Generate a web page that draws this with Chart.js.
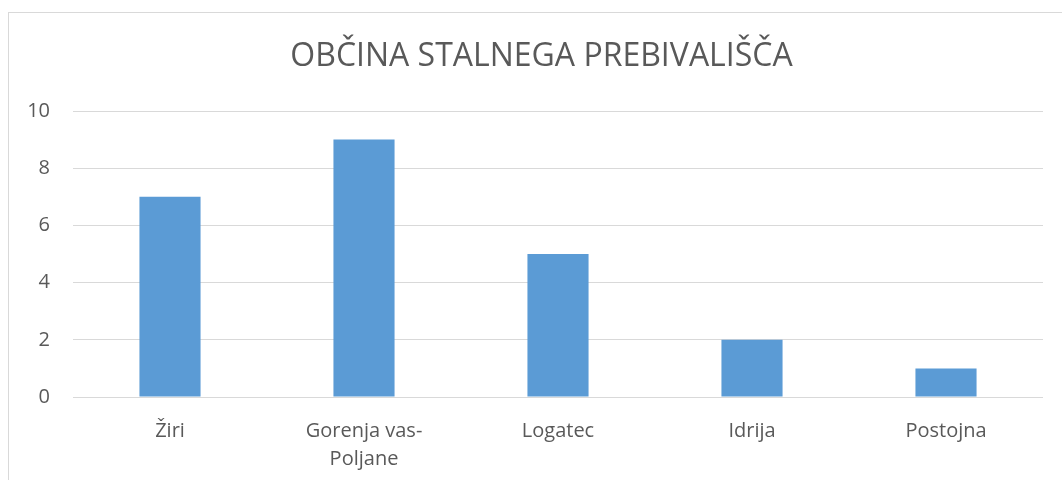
<!DOCTYPE html>
<html>
<head>
<meta charset="utf-8">
<script src="https://cdn.jsdelivr.net/npm/chart.js@4.4.1/dist/chart.umd.min.js"></script>
<style>
    html, body { margin: 0; padding: 0; background: #fff; }
    #frame {
        position: absolute;
        left: 8px;
        top: 12px;
        width: 1100px;
        height: 520px;
        border: 1px solid #d9d9d9;
    }
    #wrap { position: absolute; left: 0; top: 0; width: 1062px; height: 480px; }
</style>
</head>
<body>
<div id="frame"></div>
<div id="wrap"><canvas id="dataChart"></canvas></div>
<script>
// Data
const categories = ['Žiri', ['Gorenja vas-', 'Poljane'], 'Logatec', 'Idrija', 'Postojna'];
const values = [7, 9, 5, 2, 1];
const yTicks = [0, 2, 4, 6, 8, 10];

const textColor = '#595959';
const fontFamily = '"Open Sans", "Noto Sans", sans-serif';

// centre the title on the frame instead of the plot area
const titleShift = {
    id: 'titleShift',
    afterLayout(chart) {
        if (chart.titleBlock) {
            chart.titleBlock.left = 40;
            chart.titleBlock.right = 1043;
        }
    }
};

function createChart(labels, data, chartId, chartTitle) {
    const ctx = document.getElementById(chartId).getContext('2d');
    new Chart(ctx, {
        type: 'bar',
        data: {
            labels: labels,
            datasets: [{
                label: chartTitle,
                data: data,
                backgroundColor: '#5b9bd5',
                borderWidth: 0,
                barPercentage: 0.315,
                categoryPercentage: 1
            }]
        },
        options: {
            responsive: true,
            maintainAspectRatio: false,
            animation: false,
            layout: { padding: { left: 0, right: 19, top: 0, bottom: 0 } },
            plugins: {
                legend: { display: false },
                tooltip: { enabled: false },
                title: {
                    display: true,
                    text: chartTitle,
                    color: textColor,
                    font: { family: fontFamily, size: 32, weight: 'normal', lineHeight: 1.2 },
                    padding: { top: 38, bottom: 34.6 }
                }
            },
            scales: {
                x: {
                    grid: { display: false },
                    border: { display: false },
                    ticks: {
                        color: textColor,
                        font: { family: fontFamily, size: 20, lineHeight: 1.4 },
                        padding: 12,
                        maxRotation: 0,
                        autoSkip: false
                    },
                    afterFit: scale => { scale.height = 83; }
                },
                y: {
                    min: 0,
                    max: 10,
                    afterBuildTicks: scale => { scale.ticks = yTicks.map(v => ({ value: v })); },
                    grid: { color: '#d9d9d9', lineWidth: 1, drawTicks: false },
                    border: { display: false },
                    ticks: {
                        color: textColor,
                        font: { family: fontFamily, size: 20 },
                        padding: 23
                    },
                    afterFit: scale => { scale.width = 73; }
                }
            }
        },
        plugins: [titleShift]
    });
}

createChart(categories, values, 'dataChart', 'OBČINA STALNEGA PREBIVALIŠČA');
</script>
</body>
</html>
